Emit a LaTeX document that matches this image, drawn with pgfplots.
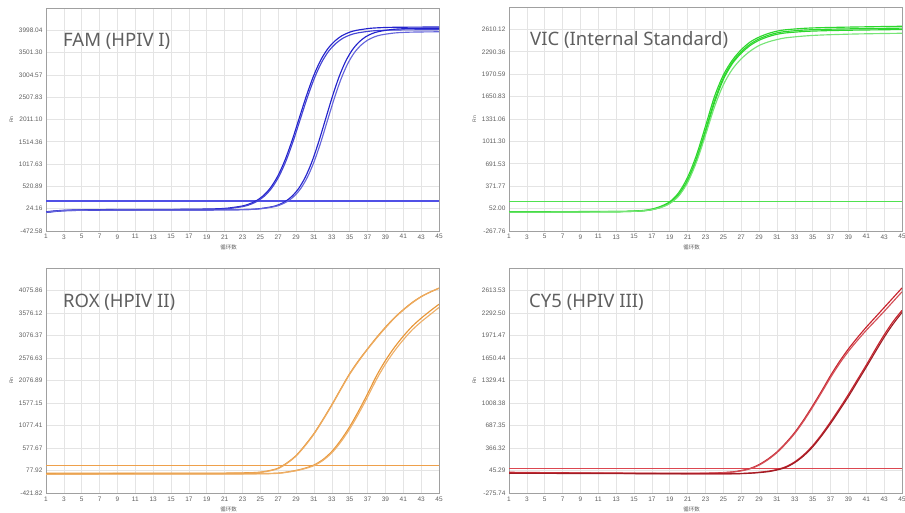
\documentclass[border=0pt]{standalone}
\usepackage{fontspec}
\setmainfont{Liberation Sans}
\newfontfamily\tfont{Noto Sans}
\newfontfamily\cjk{Noto Sans CJK SC}
\usepackage{pgfplots}
\pgfplotsset{compat=1.18}
\definecolor{famc}{RGB}{35,35,205}
\definecolor{famt}{RGB}{80,80,230}
\definecolor{vicc}{RGB}{45,215,45}
\definecolor{vict}{RGB}{80,225,80}
\definecolor{roxc}{RGB}{232,150,55}
\definecolor{roxt}{RGB}{238,160,75}
\definecolor{cy5c}{RGB}{200,35,45}
\definecolor{cy5t}{RGB}{220,70,80}
\definecolor{gridc}{RGB}{228,228,228}
\definecolor{framec}{RGB}{160,160,160}
\definecolor{tickc}{RGB}{95,95,95}
\definecolor{titlec}{RGB}{95,95,95}
\pgfplotsset{
 pcr/.style={
  scale only axis,
  xmin=1, xmax=45,
  xtick={1,3,...,45},
  grid=major,
  major grid style={draw=gridc, line width=0.6pt},
  axis line style={draw=framec, line width=0.9pt},
  major tick length=0pt,
  tick style={draw=none},
  ticklabel style={font=\fontsize{6.5}{7}\selectfont, text=tickc},
  /pgf/number format/assume math mode=true,
  xlabel={循环数},
  ylabel={Rn},
  xlabel style={at={(axis description cs:0.465,0)}, anchor=north, yshift=-10pt, font=\cjk\fontsize{5.5}{6}\selectfont, text=tickc},
  ylabel style={at={(axis description cs:-0.088,0.5)}, anchor=center, font=\fontsize{5}{6}\selectfont, text=tickc},
  curve/.style={line width=1.15pt, smooth, mark=none},
  thr/.style={line width=1.2pt, sharp plot, mark=none},
 }
}
\begin{document}
\begin{tikzpicture}
\useasboundingbox (0pt,0pt) rectangle (905pt,513pt);
% ---------------- FAM ----------------
\begin{axis}[pcr, at={(46pt,282pt)}, anchor=south west, width=393pt, height=223pt,
 ymin=-472.58, ymax=4494.78,
 ytick={-472.58,24.16,520.89,1017.63,1514.36,2011.10,2507.83,3004.57,3501.30,3998.04},
 yticklabels={-472.58,24.16,520.89,1017.63,1514.36,2011.10,2507.83,3004.57,3501.30,3998.04}]
\addplot[thr, color=famt] coordinates {(1,195) (23,195) (45,195)};
\addplot[curve, color=famc] coordinates {(1,-45) (2,-25) (3,-12) (5,-2) (8,5) (12,8) (16,10) (19.75,20) (21.35,37) (22.95,83) (23.75,129) (24.55,202) (25.35,318) (26.15,494) (26.95,751) (27.75,1102) (28.55,1543) (29.35,2040) (30.15,2535) (30.95,2978) (31.75,3331) (32.55,3587) (33.35,3761) (34.15,3879) (34.95,3952) (35.75,3997) (37.35,4043) (38.95,4060) (40.55,4066) (45,4072)};
\addplot[curve, color=famc!85!white] coordinates {(1,-50) (2,-30) (3,-15) (5,-5) (8,0) (12,3) (16,5) (19.85,10) (21.45,27) (23.05,72) (23.85,117) (24.65,190) (25.45,304) (26.25,478) (27.05,731) (27.85,1078) (28.65,1514) (29.45,2005) (30.25,2494) (31.05,2931) (31.85,3280) (32.65,3533) (33.45,3705) (34.25,3822) (35.05,3894) (35.85,3938) (37.45,3983) (39.05,4000) (40.65,4006) (45,4012)};
\addplot[curve, color=famc] coordinates {(1,-60) (2,-38) (3,-22) (5,-12) (8,-8) (12,-6) (16,-5) (20,-3) (23.3,5) (24.8,22) (26.3,68) (27.05,112) (27.8,185) (28.55,303) (29.3,478) (30.05,734) (30.8,1084) (31.55,1526) (32.3,2020) (33.05,2514) (33.8,2956) (34.55,3308) (35.3,3563) (36.05,3737) (36.8,3855) (37.55,3928) (38.3,3972) (39.8,4018) (41.3,4035) (42.8,4041) (45,4045)};
\addplot[curve, color=famc!70!white] coordinates {(1,-55) (2,-35) (3,-20) (5,-10) (8,-7) (12,-5) (16,-5) (20,-3) (23.5,5) (25,22) (26.5,66) (27.25,111) (28,183) (28.75,296) (29.5,468) (30.25,719) (31,1063) (31.75,1494) (32.5,1980) (33.25,2464) (34,2897) (34.75,3242) (35.5,3493) (36.25,3663) (37,3778) (37.75,3850) (38.5,3894) (40,3938) (41.5,3955) (43,3961) (45,3965)};
\end{axis}
% ---------------- VIC ----------------
\begin{axis}[pcr, at={(509pt,282pt)}, anchor=south west, width=393pt, height=224pt,
 ymin=-267.76, ymax=2929.89,
 ytick={-267.76,52.00,371.77,691.53,1011.30,1331.06,1650.83,1970.59,2290.36,2610.12},
 yticklabels={-267.76,52.00,371.77,691.53,1011.30,1331.06,1650.83,1970.59,2290.36,2610.12}]
\addplot[thr, color=vict] coordinates {(1,155) (23,155) (45,155)};
\addplot[curve, color=vicc] coordinates {(1,5) (5,5) (10,8) (14,12) (16,25) (17,45) (18,85) (19,150) (20,280) (21,500) (22,820) (23,1230) (24,1650) (25,1960) (26,2170) (27,2320) (28,2430) (29,2500) (30,2550) (31,2585) (32,2605) (34,2625) (36,2635) (40,2645) (45,2655)};
\addplot[curve, color=vicc] coordinates {(1,8) (5,8) (10,10) (14,12) (16,22) (17,40) (18,75) (19,135) (20,255) (21,460) (22,770) (23,1170) (24,1590) (25,1920) (26,2140) (27,2290) (28,2400) (29,2475) (30,2525) (31,2560) (32,2580) (34,2600) (36,2610) (40,2620) (45,2628)};
\addplot[curve, color=vicc] coordinates {(1,3) (5,3) (10,5) (14,9) (16,20) (17,37) (18,70) (19,128) (20,240) (21,440) (22,745) (23,1140) (24,1560) (25,1895) (26,2120) (27,2270) (28,2380) (29,2455) (30,2505) (31,2540) (32,2560) (34,2580) (36,2590) (40,2600) (45,2608)};
\addplot[curve, color=vicc!65!white] coordinates {(1,2) (5,2) (10,5) (14,9) (16,20) (17,36) (18,68) (19,124) (20,232) (21,425) (22,720) (23,1100) (24,1500) (25,1820) (26,2040) (27,2190) (28,2300) (29,2380) (30,2430) (31,2465) (32,2490) (34,2515) (36,2530) (40,2545) (45,2555)};
\end{axis}
% ---------------- ROX ----------------
\begin{axis}[pcr, at={(46pt,20pt)}, anchor=south west, width=393pt, height=225pt,
 ymin=-421.82, ymax=4575.60,
 ytick={-421.82,77.92,577.67,1077.41,1577.15,2076.89,2576.63,3076.37,3576.12,4075.86},
 yticklabels={-421.82,77.92,577.67,1077.41,1577.15,2076.89,2576.63,3076.37,3576.12,4075.86}]
\addplot[thr, color=roxt] coordinates {(1,190) (23,190) (45,190)};
\addplot[curve, color=roxc] coordinates {(1,15) (5,18) (10,20) (15,20) (20,20) (22,22) (24,30) (25,42) (26,75) (27,130) (28,250) (29,410) (30,640) (31,900) (32,1210) (33,1540) (34,1890) (35,2230) (36,2520) (37,2780) (38,3030) (39,3260) (40,3470) (41,3650) (42,3810) (43,3940) (44,4040) (45,4125)};
\addplot[curve, color=roxc!80!white] coordinates {(1,5) (5,8) (10,10) (15,10) (20,12) (22,15) (24,22) (25,35) (26,68) (27,122) (28,240) (29,400) (30,625) (31,885) (32,1195) (33,1525) (34,1875) (35,2215) (36,2505) (37,2770) (38,3015) (39,3245) (40,3460) (41,3640) (42,3800) (43,3935) (44,4040) (45,4130)};
\addplot[curve, color=roxc] coordinates {(1,0) (5,2) (10,5) (15,5) (20,5) (25,8) (27,20) (28,45) (29,80) (30,130) (31,200) (32,320) (33,500) (34,750) (35,1050) (36,1400) (37,1780) (38,2180) (39,2520) (40,2810) (41,3060) (42,3280) (43,3460) (44,3620) (45,3770)};
\addplot[curve, color=roxc!75!white] coordinates {(1,-8) (5,-5) (10,-2) (15,0) (20,0) (25,4) (27,15) (28,40) (29,72) (30,120) (31,185) (32,300) (33,470) (34,710) (35,1000) (36,1340) (37,1710) (38,2100) (39,2440) (40,2730) (41,2980) (42,3200) (43,3380) (44,3540) (45,3700)};
\end{axis}
% ---------------- CY5 ----------------
\begin{axis}[pcr, at={(509pt,20pt)}, anchor=south west, width=393pt, height=225pt,
 ymin=-275.74, ymax=2934.56,
 ytick={-275.74,45.29,366.32,687.35,1008.38,1329.41,1650.44,1971.47,2292.50,2613.53},
 yticklabels={-275.74,45.29,366.32,687.35,1008.38,1329.41,1650.44,1971.47,2292.50,2613.53}]
\addplot[thr, color=cy5t] coordinates {(1,75) (23,75) (45,75)};
\addplot[curve, color=cy5c] coordinates {(1,20) (5,15) (10,10) (15,8) (20,5) (24,10) (26,25) (27,45) (28,75) (29,130) (30,210) (31,310) (32,440) (33,590) (34,770) (35,970) (36,1180) (37,1400) (38,1600) (39,1780) (40,1940) (41,2090) (42,2230) (43,2370) (44,2510) (45,2650)};
\addplot[curve, color=cy5c!80!white] coordinates {(1,12) (5,10) (10,6) (15,5) (20,3) (24,8) (26,22) (27,40) (28,70) (29,122) (30,200) (31,300) (32,428) (33,575) (34,752) (35,950) (36,1158) (37,1372) (38,1570) (39,1745) (40,1900) (41,2045) (42,2180) (43,2315) (44,2455) (45,2595)};
\addplot[curve, color=cy5c] coordinates {(1,10) (5,8) (10,5) (15,3) (20,0) (26,0) (28,10) (29,20) (30,35) (31,60) (32,100) (33,170) (34,270) (35,400) (36,560) (37,740) (38,930) (39,1130) (40,1340) (41,1550) (42,1770) (43,1980) (44,2170) (45,2330)};
\addplot[curve, color=cy5c!80!black] coordinates {(1,5) (5,4) (10,2) (15,0) (20,-2) (26,-2) (28,6) (29,15) (30,28) (31,52) (32,90) (33,158) (34,255) (35,382) (36,540) (37,715) (38,905) (39,1100) (40,1310) (41,1520) (42,1735) (43,1945) (44,2135) (45,2300)};
\end{axis}
% ---------------- titles ----------------
\begin{scope}[every node/.style={anchor=base west, inner sep=0pt, text=titlec, font=\tfont\fontsize{18.5}{20}\selectfont}]
\node at (63pt,466pt) {FAM (HPIV I)};
\node at (530pt,467pt) {VIC (Internal Standard)};
\node at (63pt,205pt) {ROX (HPIV II)};
\node at (529pt,205pt) {CY5 (HPIV III)};
\end{scope}
\end{tikzpicture}
\end{document}
